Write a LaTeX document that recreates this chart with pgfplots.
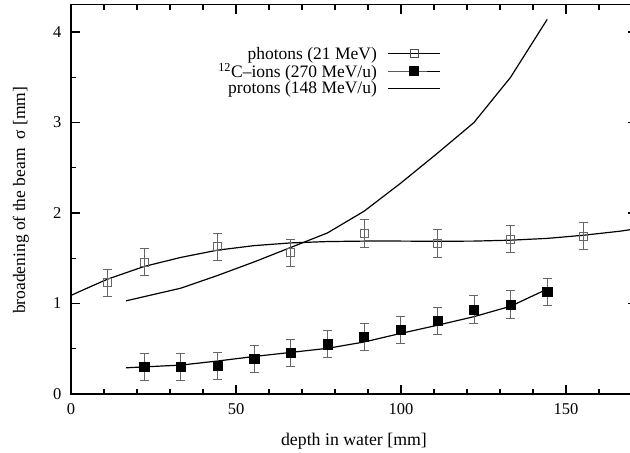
\documentclass[border=0pt]{standalone}
\usepackage{pgfplots}
\pgfplotsset{compat=1.18}
\usepackage{pgfplotstable}
\usepackage{fontspec}
\setmainfont{Liberation Serif}

\pgfplotstableread{
x y e
11.1 1.23 0.15
22.2 1.46 0.15
44.4 1.63 0.15
66.6 1.56 0.15
88.8 1.775 0.15
111.0 1.665 0.15
133.2 1.71 0.15
155.4 1.745 0.15
}\photons

\pgfplotstableread{
x y e
22.2 0.30 0.15
33.3 0.30 0.15
44.4 0.31 0.15
55.5 0.39 0.15
66.6 0.455 0.15
77.7 0.55 0.15
88.8 0.633 0.15
99.9 0.707 0.15
111.0 0.81 0.15
122.1 0.936 0.15
133.2 0.99 0.15
144.3 1.13 0.15
}\cions

\pgfplotstableread{
x y
0 1.09
5.5 1.18
11.1 1.27
22.2 1.41
33.3 1.51
44.4 1.59
55.5 1.64
66.6 1.67
77.7 1.685
88.8 1.69
99.9 1.69
111.0 1.688
122.1 1.69
133.2 1.70
144.3 1.72
155.4 1.755
166.5 1.80
172 1.83
}\photonfit

\pgfplotstableread{
x y
16.7 0.29
22.2 0.30
33.3 0.32
44.4 0.365
55.5 0.415
66.6 0.46
77.7 0.505
88.8 0.575
99.9 0.67
111.0 0.76
122.1 0.855
133.2 0.97
144.3 1.16
}\cionfit

\pgfplotstableread{
x y
16.7 1.03
33.3 1.17
44.4 1.31
55.5 1.46
66.6 1.62
77.7 1.78
88.8 2.02
99.9 2.33
111.0 2.66
122.1 3.00
133.2 3.50
144.3 4.14
}\protons

\begin{document}
\begin{tikzpicture}
\begin{axis}[
  x=3.3pt, y=90.5pt,
  xmin=0, xmax=171.5, ymin=0, ymax=4.3,
  axis line style={line width=1.2pt},
  xtick={0,50,100,150}, ytick={0,1,2,3,4},
  minor xtick={10,20,...,170}, minor ytick={0.5,1.5,2.5,3.5},
  tick align=inside,
  major tick length=9pt, minor tick length=5pt,
  every tick/.style={black, line width=1.2pt},
  tick label style={font=\fontsize{16.5}{18}\selectfont},
  xticklabel style={yshift=-6pt},
  yticklabel style={xshift=-6pt},
  /pgf/number format/assume math mode=true,
  xlabel={depth in water [mm]},
  ylabel={broadening of the beam~~σ [mm]},
  every axis x label/.style={at={(axis cs:85.75,-0.519)}, anchor=center, font=\fontsize{17.8}{19}\selectfont},
  every axis y label/.style={at={(axis cs:-15.2,2.14)}, anchor=center, rotate=90, font=\fontsize{17.5}{19}\selectfont},
  legend plot pos=right,
  legend cell align=right,
  legend style={at={(axis cs:113,3.882)}, anchor=north east, draw=none, fill=none,
    font=\fontsize{17.5}{19}\selectfont, row sep=-1.5pt, column sep=9pt},
  legend image code/.code={\draw[mark repeat=2,mark phase=2,#1] plot coordinates {(0pt,0pt) (26pt,0pt) (52pt,0pt)};},
  clip=true,
]
\coordinate (BL) at (axis cs:-21.515,-0.641);
\coordinate (TR) at (axis cs:169.39,4.354);

\addlegendimage{black, line width=0.8pt, mark=square, mark size=4pt, mark options={draw=black!70, line width=0.8pt}}
\addlegendentry{photons (21 MeV)}
\addlegendimage{black, line width=0.8pt, mark=square*, mark size=4.5pt, mark options={fill=black}}
\addlegendentry{\textsuperscript{12}C–ions (270 MeV/u)}
\addlegendimage{black, line width=0.8pt}
\addlegendentry{protons (148 MeV/u)}

\addplot[black, line width=1.2pt, forget plot] table[x=x,y=y] {\photonfit};
\addplot[black, line width=1.2pt, forget plot] table[x=x,y=y] {\cionfit};
\addplot[black, line width=1.2pt, forget plot] table[x=x,y=y] {\protons};

\addplot[only marks, mark=square, mark size=4pt, mark options={draw=black!60, line width=0.8pt}, forget plot,
  error bars/.cd, y dir=both, y explicit,
  error bar style={black!60, line width=0.8pt},
  error mark options={rotate=90, mark size=4.5pt, black!60, line width=0.8pt}]
  table[x=x,y=y,y error=e] {\photons};
\addplot[only marks, mark=square*, mark size=4.6pt, mark options={fill=black, draw=black}, forget plot,
  error bars/.cd, y dir=both, y explicit,
  error bar style={black!60, line width=0.8pt},
  error mark options={rotate=90, mark size=4.5pt, black!60, line width=0.8pt}]
  table[x=x,y=y,y error=e] {\cions};
\end{axis}
\pgfresetboundingbox
\path[use as bounding box] (BL) rectangle (TR);
\end{tikzpicture}
\end{document}
